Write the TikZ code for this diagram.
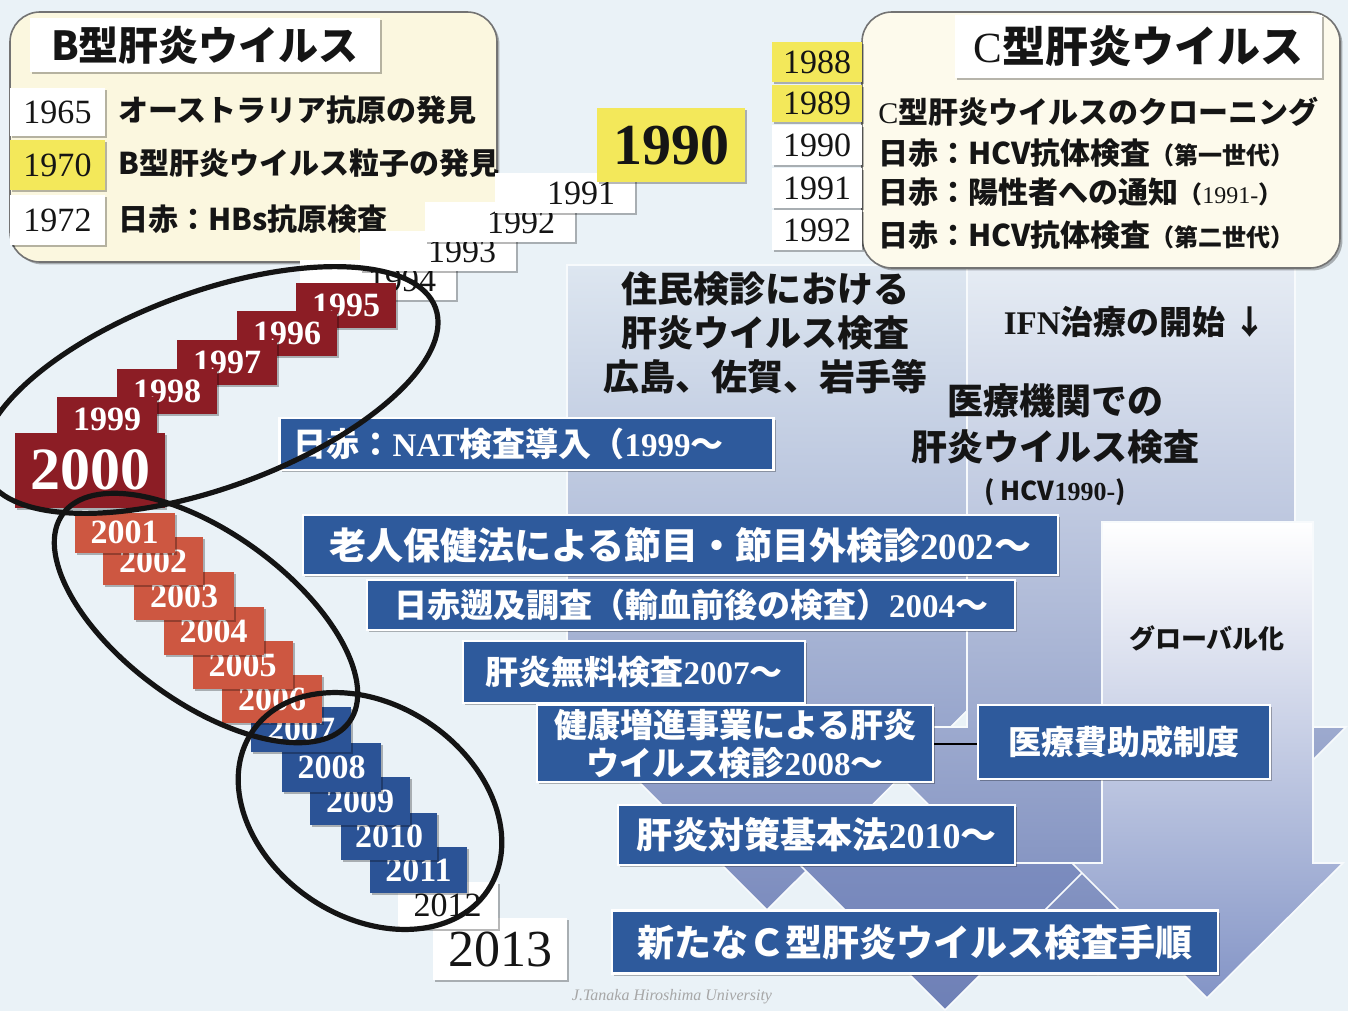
\documentclass[tikz,border=0pt]{standalone}
\usepackage{fontspec}
\usetikzlibrary{shadows}
\newfontfamily\jp{Noto Sans CJK JP}
\newfontfamily\sr{Liberation Serif}
\newcommand\myfs[1]{\fontsize{#1}{#1}\selectfont}
\definecolor{bgc}{HTML}{EAF2F7}
\definecolor{cream}{HTML}{FBF7DF}
\definecolor{yel}{HTML}{F3E85A}
\definecolor{dred}{HTML}{8C1D25}
\definecolor{ored}{HTML}{CD5741}
\definecolor{sblue}{HTML}{2B5396}
\definecolor{bblue}{HTML}{2E5A9C}
\definecolor{txt}{HTML}{151515}
\definecolor{aAt}{HTML}{DDE6F0}
\definecolor{aAb}{HTML}{7C8CBE}
\definecolor{aBt}{HTML}{E6ECF4}
\definecolor{aBb}{HTML}{7586BA}
\definecolor{aDt}{HTML}{8191C2}
\definecolor{aDb}{HTML}{6E80B6}
\definecolor{aCb}{HTML}{8394C6}
\begin{document}
\begin{tikzpicture}[x=0.5pt,y=-0.5pt,
 shd/.style={drop shadow={shadow xshift=1.2pt,shadow yshift=-1.2pt,opacity=0.28,fill=black}},
 sz/.style 2 args={minimum width=#1*0.5pt,minimum height=#2*0.5pt,inner sep=0pt},
 yrw/.style={fill=white,shd,font=\sr\myfs{17},text=txt},
 yry/.style={fill=yel,shd,font=\sr\myfs{17},text=txt},
 jtx/.style={font=\jp\bfseries\myfs{15},text=txt,inner sep=0pt,anchor=west},
 drb/.style={fill=dred,text=white,font=\sr\bfseries\myfs{17},shd},
 orb/.style={fill=ored,text=white,font=\sr\bfseries\myfs{17},shd},
 blb/.style={fill=sblue,text=white,font=\sr\bfseries\myfs{17},shd},
 bbx/.style={fill=bblue,draw=white,line width=1.2pt,text=white,shd,inner sep=0pt},
 ell/.style={line width=2.6pt,draw=black!92},
 arr/.style={draw=white!60!bgc,line width=0.8pt},
 btx/.style={font=\jp\bfseries,text=txt,inner sep=0pt,align=center}]
% background
\fill[bgc] (0,0) rectangle (1348,1011);
\useasboundingbox (0,0) rectangle (1348,1011);
% background arrows
\path[arr,top color=aAt,bottom color=aAb] (567,265) -- (967,265) -- (967,648) -- (1030,648) -- (767,910) -- (505,648) -- (567,648) -- cycle;
\path[arr,top color=aBt,bottom color=aBb] (967,265) -- (1295,265) -- (1295,727) -- (1346,727) -- (1098,975) -- (851,727) -- (967,727) -- cycle;
\path[arr,top color=aDt,bottom color=aDb] (835,806) -- (1015,806) -- (1015,863) -- (1092,863) -- (945,1010) -- (798,863) -- (835,863) -- cycle;
\path[arr,top color=white,bottom color=aCb] (1102,522) -- (1313,522) -- (1313,863) -- (1343,863) -- (1207,998) -- (1072,863) -- (1102,863) -- cycle;
% B box
\node[fill=cream,draw=black!55,line width=0.8pt,rounded corners=15pt,sz={487}{250},shd] (bbox) at (253.5,137) {};
\node[fill=white,shd,sz={350}{54},font=\jp\bfseries\myfs{20},text=txt] (btitle) at (205,45) {B型肝炎ウイルス};
\node[yrw,sz={95}{48}] (b1965) at (57.5,112) {1965};
\node[yry,sz={95}{50}] (b1970) at (57.5,165) {1970};
\node[yrw,sz={95}{50}] (b1972) at (57.5,220) {1972};
\node[jtx] (t1965) at (118,110) {オーストラリア抗原の発見};
\node[jtx] (t1970) at (118,163) {B型肝炎ウイルス粒子の発見};
\node[jtx] (t1972) at (118,219) {日赤：HBs抗原検査};
% C box
\node[fill=cream!60!white,draw=black!55,line width=0.8pt,rounded corners=15pt,sz={478}{256},shd] (cbox) at (1101,140) {};
\node[fill=white,shd,sz={367}{63},text=txt] (ctitle) at (1138.5,46.5) {{\sr\myfs{21.5}C}{\jp\bfseries\myfs{21.5}型肝炎ウイルス}};
\node[yry,sz={90}{40}] (c1988) at (817,62) {1988};
\node[yry,sz={90}{37}] (c1989) at (817,103.5) {1989};
\node[yrw,sz={90}{40}] (c1990) at (817,145) {1990};
\node[yrw,sz={90}{40}] (c1991) at (817,188) {1991};
\node[yrw,sz={90}{40}] (c1992) at (817,230) {1992};
\node[jtx] (tc1) at (878,112) {{\sr\mdseries C}型肝炎ウイルスのクローニング};
\node[jtx] (tc2) at (878,153) {日赤：HCV抗体検査{\myfs{12}（第一世代）}};
\node[jtx] (tc3) at (878,192) {日赤：陽性者への通知{\myfs{12}（{\sr\mdseries 1991-}）}};
\node[jtx] (tc4) at (878,235) {日赤：HCV抗体検査{\myfs{12}（第二世代）}};
% white staircase
\node[yrw,sz={156}{40},text width=58pt,align=right,inner xsep=10pt] (w1994) at (378,280) {1994};
\node[yrw,sz={156}{40},text width=58pt,align=right,inner xsep=10pt] (w1993) at (438,251) {1993};
\node[yrw,sz={150}{40},text width=55pt,align=right,inner xsep=10pt] (w1992) at (500,222) {1992};
\node[yrw,sz={140}{40},text width=50pt,align=right,inner xsep=10pt] (w1991) at (565,193) {1991};
\node[yry,sz={148}{74},font=\sr\bfseries\myfs{29}] (y1990) at (671,145) {1990};
% dark red staircase
\node[drb,sz={100}{45}] (r1995) at (346,305) {1995};
\node[drb,sz={100}{45}] (r1996) at (287,333) {1996};
\node[drb,sz={100}{45}] (r1997) at (227,362) {1997};
\node[drb,sz={100}{45}] (r1998) at (167,391) {1998};
\node[drb,sz={100}{45}] (r1999) at (107,419) {1999};
\node[drb,sz={150}{75},font=\sr\bfseries\myfs{30}] (r2000) at (90,470) {2000};
% blue staircase
\node[yrw,sz={134}{62},font=\sr\myfs{26}] (w2013) at (500,949) {2013};
\node[yrw,sz={100}{47}] (w2012) at (447.5,905) {2012};
\node[blb,sz={97}{46}] (b2011) at (418.5,870) {2011};
\node[blb,sz={96}{47}] (b2010) at (389,836.5) {2010};
\node[blb,sz={100}{48}] (b2009) at (360,801) {2009};
\node[blb,sz={99}{49}] (b2008) at (331.5,767.5) {2008};
\node[blb,sz={100}{45}] (b2007) at (301,729) {2007};
% orange staircase
\node[orb,sz={100}{48}] (o2006) at (272,699) {2006};
\node[orb,sz={100}{48}] (o2005) at (242.5,665) {2005};
\node[orb,sz={100}{48}] (o2004) at (213.5,631) {2004};
\node[orb,sz={100}{48}] (o2003) at (184,596) {2003};
\node[orb,sz={100}{48}] (o2002) at (153,561) {2002};
\node[orb,sz={100}{40}] (o2001) at (124.5,532.5) {2001};
% blue boxes
\node[bbx,sz={493}{52},font=\jp\bfseries\myfs{16.5},text width=233pt,align=left,inner xsep=7pt] (nat) at (526.5,444) {日赤：{\sr NAT}検査導入（{\sr 1999}〜};
\node[bbx,sz={755}{60},font=\jp\bfseries\myfs{18.5}] (rojin) at (680.5,545) {老人保健法による節目・節目外検診{\sr 2002}〜};
\node[bbx,sz={648}{50},font=\jp\bfseries\myfs{16.5}] (sokyu) at (691,605) {日赤遡及調査（輸血前後の検査）{\sr 2004}〜};
\node[bbx,sz={342}{62},font=\jp\bfseries\myfs{16.5}] (muryo) at (634,672) {肝炎無料検査{\sr 2007}〜};
\node[bbx,sz={396}{77},font=\jp\bfseries\fontsize{16.5}{19}\selectfont,align=center] (kenko) at (735,743.5) {健康増進事業による肝炎\\ウイルス検診{\sr 2008}〜};
\node[bbx,sz={292}{74},font=\jp\bfseries\myfs{16.5}] (iryohi) at (1124,742) {医療費助成制度};
\node[bbx,sz={397}{60},font=\jp\bfseries\myfs{18}] (taisaku) at (816.5,835) {肝炎対策基本法{\sr 2010}〜};
\node[bbx,sz={606}{63},font=\jp\bfseries\myfs{18.5}] (arata) at (915,942) {新たなＣ型肝炎ウイルス検査手順};
\draw[line width=1pt,black] (kenko.east) -- (kenko.east -| iryohi.west);
% plain texts
\node[btx,font=\jp\bfseries\fontsize{18}{22}\selectfont] (jumin) at (765,333) {住民検診における\\肝炎ウイルス検査\\広島、佐賀、岩手等};
\node[btx,font=\jp\bfseries\myfs{16.5}] (ifn) at (1135,322) {{\sr IFN}治療の開始 ↓};
\node[btx,font=\jp\bfseries\fontsize{18}{23}\selectfont] (iryokikan) at (1055,445) {医療機関での\\肝炎ウイルス検査\\[-3pt]{\myfs{13}( HCV{\sr 1990-})}};
\node[btx,font=\jp\bfseries\myfs{13}] (global) at (1207,638) {グローバル化};
\node[font=\sr\itshape\myfs{8},text=black!35,inner sep=0pt] (wm) at (672,997) {J.Tanaka Hiroshima University};
% ellipses
\draw[ell] (210,390) circle [x radius=120pt,y radius=49pt,rotate=20];
\draw[ell] (206,618) circle [x radius=88.5pt,y radius=42.5pt,rotate=-36];
\draw[ell] (370,811) circle [x radius=71pt,y radius=53pt,rotate=-34];
\end{tikzpicture}
\end{document}
